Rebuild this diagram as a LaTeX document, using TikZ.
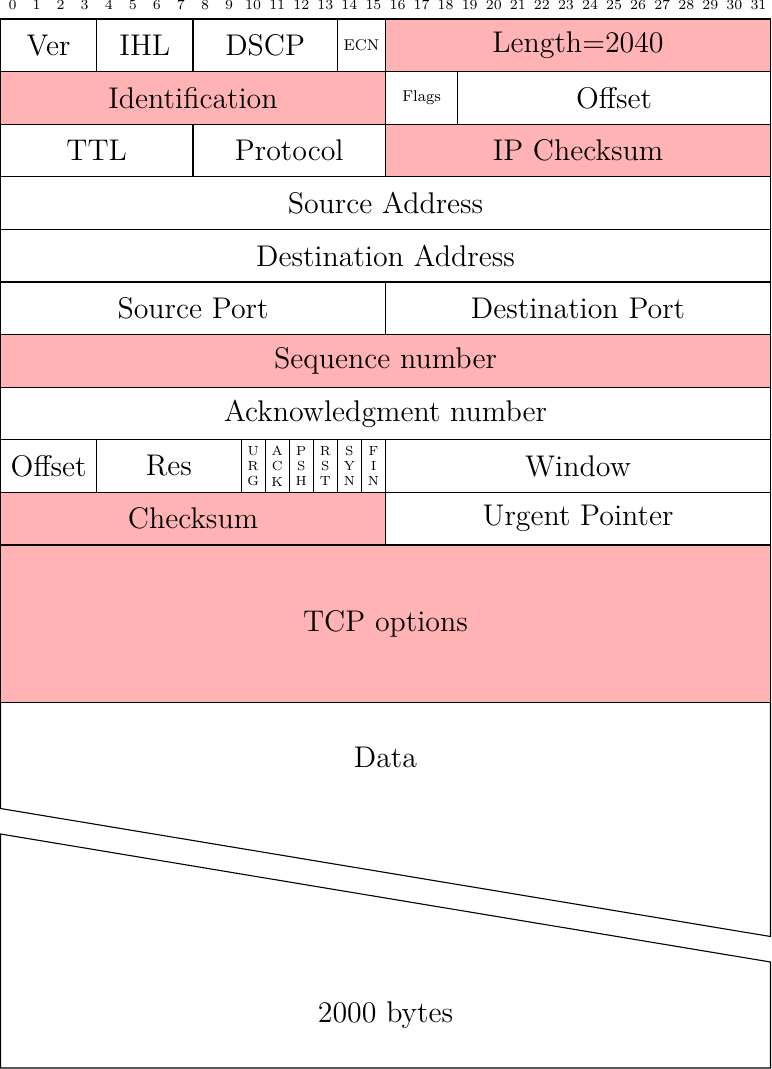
\documentclass[tikz,border=0pt]{standalone}
\definecolor{hdrpink}{RGB}{255,179,181}
\newcommand\BW{12.03125}
\newcommand\RH{26.3}
\tikzset{
 cellbox/.style={draw=black,line width=0.55pt,inner sep=0pt,outer sep=0pt,anchor=north west,font=\fontsize{14.95}{18}\selectfont},
 pinkcell/.style={fill=hdrpink},
 bitnum/.style={font=\fontsize{7}{8}\selectfont,inner sep=0pt},
 smalllbl/.style={font=\fontsize{7.8}{9}\selectfont},
 flaglbl/.style={font=\fontsize{6.6}{7.6}\selectfont,align=center},
 frameline/.style={line width=0.55pt,line join=miter},
 bigtext/.style={font=\fontsize{14.95}{18}\selectfont,inner sep=0pt},
}
\newcommand\pcell[7]{\node[cellbox,#6,minimum width=#3*\BW pt,minimum height=#5*\RH pt] (#1) at ({0.25+#2*\BW},{9.5+#4*\RH}) {#7};}
\begin{document}
\begin{tikzpicture}[x=1pt,y=-1pt]
\useasboundingbox (0,0) rectangle (385.5,534.5);
% bit numbers
\foreach \i in {0,...,31}{
  \node[bitnum] (b\i) at ({0.25+(\i+0.5)*\BW},2.6) {\i};
}
% row 0
\pcell{ver}{0}{4}{0}{1}{}{Ver}
\pcell{ihl}{4}{4}{0}{1}{}{IHL}
\pcell{dscp}{8}{6}{0}{1}{}{DSCP}
\pcell{ecn}{14}{2}{0}{1}{smalllbl}{ECN}
\pcell{len}{16}{16}{0}{1}{pinkcell}{Length=2040}
% row 1
\pcell{ident}{0}{16}{1}{1}{pinkcell}{Identification}
\pcell{flags}{16}{3}{1}{1}{smalllbl}{Flags}
\pcell{fragoff}{19}{13}{1}{1}{}{Offset}
% row 2
\pcell{ttl}{0}{8}{2}{1}{}{TTL}
\pcell{proto}{8}{8}{2}{1}{}{Protocol}
\pcell{ipck}{16}{16}{2}{1}{pinkcell}{IP Checksum}
% row 3-4
\pcell{src}{0}{32}{3}{1}{}{Source Address}
\pcell{dst}{0}{32}{4}{1}{}{Destination Address}
% row 5
\pcell{sport}{0}{16}{5}{1}{}{Source Port}
\pcell{dport}{16}{16}{5}{1}{}{Destination Port}
% row 6-7
\pcell{seq}{0}{32}{6}{1}{pinkcell}{Sequence number}
\pcell{ack}{0}{32}{7}{1}{}{Acknowledgment number}
% row 8
\pcell{doff}{0}{4}{8}{1}{}{Offset}
\pcell{res}{4}{6}{8}{1}{}{Res}
\pcell{urg}{10}{1}{8}{1}{flaglbl}{U\\R\\G}
\pcell{ackf}{11}{1}{8}{1}{flaglbl}{A\\C\\K}
\pcell{psh}{12}{1}{8}{1}{flaglbl}{P\\S\\H}
\pcell{rst}{13}{1}{8}{1}{flaglbl}{R\\S\\T}
\pcell{syn}{14}{1}{8}{1}{flaglbl}{S\\Y\\N}
\pcell{fin}{15}{1}{8}{1}{flaglbl}{F\\I\\N}
\pcell{win}{16}{16}{8}{1}{}{Window}
% row 9
\pcell{cksum}{0}{16}{9}{1}{pinkcell}{Checksum}
\pcell{urgp}{16}{16}{9}{1}{}{Urgent Pointer}
% rows 10-12
\pcell{opts}{0}{32}{10}{3}{pinkcell}{TCP options}
% data region with break
\coordinate (brkA) at (0.25,404.25);
\coordinate (brkB) at (385.25,468.25);
\coordinate (brkC) at (0.25,417);
\coordinate (brkD) at (385.25,481);
\coordinate (botL) at (0.25,534);
\coordinate (botR) at (385.25,534);
\draw[frameline] (opts.south west) -- (brkA) -- (brkB) -- (opts.south east);
\draw[frameline] (brkC) -- (brkD) -- (botR) -- (botL) -- cycle;
\node[bigtext] (data) at (192.75,378.5) {Data};
\node[bigtext] (bytes) at (192.75,507.5) {2000 bytes};
\end{tikzpicture}
\end{document}
